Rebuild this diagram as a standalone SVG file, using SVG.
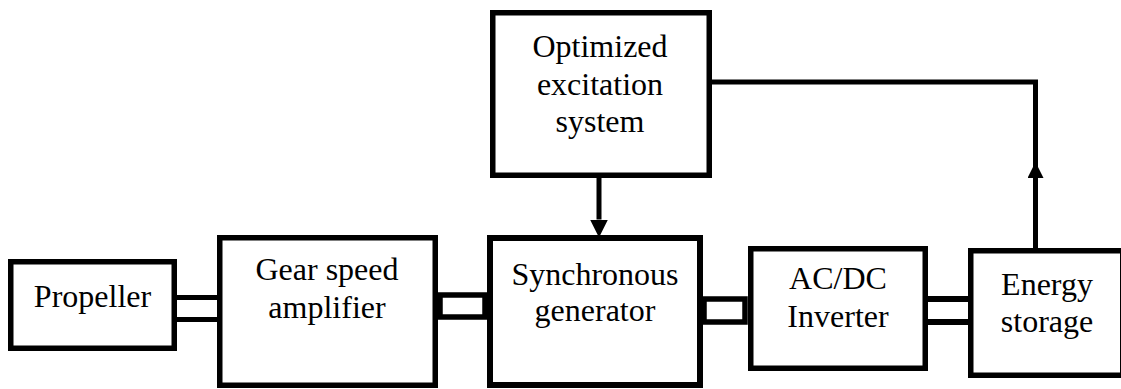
<svg xmlns="http://www.w3.org/2000/svg" width="1121" height="389" viewBox="0 0 1121 389" font-family="'Liberation Serif', 'Times New Roman', Times, serif">
  <style>
    .box { fill: #ffffff; stroke: #000000; stroke-width: 5.5; }
    .shaft { fill: #ffffff; stroke: #000000; stroke-width: 5.5; }
    .line { fill: none; stroke: #000000; stroke-width: 5; }
    .wire { fill: none; stroke: #000000; stroke-width: 5; }
    text { font-family: "Liberation Serif", "Times New Roman", Times, serif; font-size: 32px; fill: #000000; text-anchor: middle; }
  </style>
  <defs>
    <marker id="arrow" viewBox="0 0 18 18" refX="0" refY="9" markerWidth="18" markerHeight="18" markerUnits="userSpaceOnUse" orient="auto">
      <path d="M0,0 L18,9 L0,18 Z" fill="#000000"/>
    </marker>
    <marker id="arrow-small" viewBox="0 0 16 16" refX="0" refY="8" markerWidth="16" markerHeight="16" markerUnits="userSpaceOnUse" orient="auto">
      <path d="M0,0 L16,8 L0,16 Z" fill="#000000"/>
    </marker>
  </defs>

  <rect width="1121" height="389" fill="#ffffff"/>

  <!-- mechanical shafts and signal lines -->
  <g id="connectors">
    <!-- propeller to gear: double shaft line -->
    <line class="line" x1="176" y1="297.5" x2="219" y2="297.5"/>
    <line class="line" x1="176" y1="319.5" x2="219" y2="319.5"/>
    <!-- gear to generator: coupling -->
    <rect class="shaft" x="440" y="295" width="45" height="22"/>
    <!-- generator to converter: coupling -->
    <rect class="shaft" x="704" y="299" width="41" height="23"/>
    <!-- converter to storage: double line -->
    <line class="line" x1="927" y1="299" x2="969" y2="299" style="stroke-width:6"/>
    <line class="line" x1="927" y1="322" x2="969" y2="322" style="stroke-width:6"/>
    <!-- excitation control to generator -->
    <line class="wire" x1="599" y1="176" x2="599" y2="219.5" marker-end="url(#arrow)"/>
    <!-- storage feedback to excitation system -->
    <path class="wire" d="M1035.5,250 L1035.5,178" marker-end="url(#arrow-small)"/>
    <path class="wire" d="M1035.5,180 L1035.5,82 L708,82" stroke-linejoin="miter"/>
  </g>

  <g id="propeller">
    <rect class="box" x="10.75" y="261.75" width="163.5" height="86.5"/>
    <text x="92.5" y="307">Propeller</text>
  </g>

  <g id="gear-speed-amplifier">
    <rect class="box" x="219.75" y="237.75" width="215.5" height="147.5"/>
    <text x="327" y="280">Gear speed</text>
    <text x="327" y="318">amplifier</text>
  </g>

  <g id="synchronous-generator">
    <rect class="box" x="490" y="238" width="210" height="147" style="stroke-width:6"/>
    <text x="595" y="285">Synchronous</text>
    <text x="595" y="321">generator</text>
  </g>

  <g id="excitation-system">
    <rect class="box" x="492.75" y="12.75" width="216.5" height="162.5"/>
    <text x="600" y="57">Optimized</text>
    <text x="600" y="95">excitation</text>
    <text x="600" y="132">system</text>
  </g>

  <g id="ac-dc-inverter">
    <rect class="box" x="750.75" y="248.75" width="174.5" height="119.5"/>
    <text x="838" y="289">AC/DC</text>
    <text x="838" y="327">Inverter</text>
  </g>

  <g id="energy-storage">
    <rect class="box" x="970.75" y="250.75" width="152" height="124.5"/>
    <text x="1047" y="295">Energy</text>
    <text x="1047" y="332">storage</text>
  </g>
</svg>
